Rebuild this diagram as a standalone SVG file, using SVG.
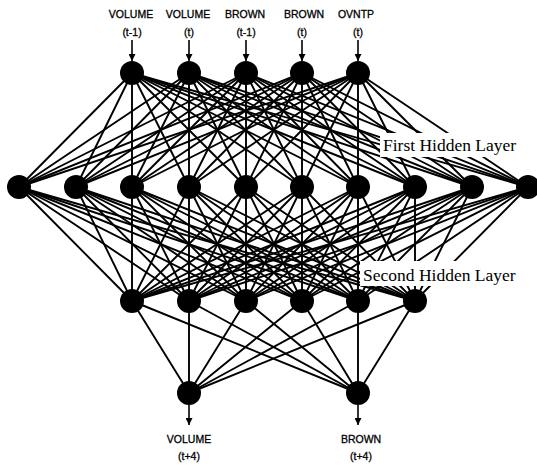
<svg xmlns="http://www.w3.org/2000/svg" width="537" height="468" viewBox="0 0 537 468">
  <style>
    .c { stroke: #000; stroke-width: 1.9; fill: none; stroke-linecap: round; }
    .a { stroke: #000; stroke-width: 1.6; fill: none; }
    .n { fill: #000; }
    .io { font-family: "Liberation Sans", Arial, sans-serif; font-size: 10.5px; fill: #000; stroke: #000; stroke-width: 0.3; text-anchor: middle; }
    .lay { font-family: "Liberation Serif", "Times New Roman", serif; font-size: 17.5px; fill: #000; }
    .mask { fill: #fff; }
  </style>
  <defs>
    <marker id="head" viewBox="0 0 10 10" refX="10" refY="5" markerWidth="10" markerHeight="7" markerUnits="userSpaceOnUse" orient="auto">
      <path d="M0,0 L10,5 L0,10 z" fill="#000"/>
    </marker>
  </defs>

  <rect width="537" height="468" fill="#fff"/>

  <!-- weighted connections between layers -->
  <g id="connectors">
    <!-- input layer to first hidden layer -->
    <g id="w-in-h1">
      <line class="c" x1="132" y1="73" x2="19" y2="187"/><line class="c" x1="132" y1="73" x2="76" y2="187"/><line class="c" x1="132" y1="73" x2="132" y2="187"/><line class="c" x1="132" y1="73" x2="189" y2="187"/><line class="c" x1="132" y1="73" x2="246" y2="187"/><line class="c" x1="132" y1="73" x2="302" y2="187"/><line class="c" x1="132" y1="73" x2="358" y2="187"/><line class="c" x1="132" y1="73" x2="415" y2="187"/><line class="c" x1="132" y1="73" x2="472" y2="187"/><line class="c" x1="132" y1="73" x2="528" y2="187"/>
      <line class="c" x1="189" y1="73" x2="19" y2="187"/><line class="c" x1="189" y1="73" x2="76" y2="187"/><line class="c" x1="189" y1="73" x2="132" y2="187"/><line class="c" x1="189" y1="73" x2="189" y2="187"/><line class="c" x1="189" y1="73" x2="246" y2="187"/><line class="c" x1="189" y1="73" x2="302" y2="187"/><line class="c" x1="189" y1="73" x2="358" y2="187"/><line class="c" x1="189" y1="73" x2="415" y2="187"/><line class="c" x1="189" y1="73" x2="472" y2="187"/><line class="c" x1="189" y1="73" x2="528" y2="187"/>
      <line class="c" x1="246" y1="73" x2="19" y2="187"/><line class="c" x1="246" y1="73" x2="76" y2="187"/><line class="c" x1="246" y1="73" x2="132" y2="187"/><line class="c" x1="246" y1="73" x2="189" y2="187"/><line class="c" x1="246" y1="73" x2="246" y2="187"/><line class="c" x1="246" y1="73" x2="302" y2="187"/><line class="c" x1="246" y1="73" x2="358" y2="187"/><line class="c" x1="246" y1="73" x2="415" y2="187"/><line class="c" x1="246" y1="73" x2="472" y2="187"/><line class="c" x1="246" y1="73" x2="528" y2="187"/>
      <line class="c" x1="302" y1="73" x2="19" y2="187"/><line class="c" x1="302" y1="73" x2="76" y2="187"/><line class="c" x1="302" y1="73" x2="132" y2="187"/><line class="c" x1="302" y1="73" x2="189" y2="187"/><line class="c" x1="302" y1="73" x2="246" y2="187"/><line class="c" x1="302" y1="73" x2="302" y2="187"/><line class="c" x1="302" y1="73" x2="358" y2="187"/><line class="c" x1="302" y1="73" x2="415" y2="187"/><line class="c" x1="302" y1="73" x2="472" y2="187"/><line class="c" x1="302" y1="73" x2="528" y2="187"/>
      <line class="c" x1="358" y1="73" x2="19" y2="187"/><line class="c" x1="358" y1="73" x2="76" y2="187"/><line class="c" x1="358" y1="73" x2="132" y2="187"/><line class="c" x1="358" y1="73" x2="189" y2="187"/><line class="c" x1="358" y1="73" x2="246" y2="187"/><line class="c" x1="358" y1="73" x2="302" y2="187"/><line class="c" x1="358" y1="73" x2="358" y2="187"/><line class="c" x1="358" y1="73" x2="415" y2="187"/><line class="c" x1="358" y1="73" x2="472" y2="187"/><line class="c" x1="358" y1="73" x2="528" y2="187"/>
    </g>
    <!-- first hidden layer to second hidden layer -->
    <g id="w-h1-h2">
      <line class="c" x1="19" y1="187" x2="132" y2="301"/><line class="c" x1="19" y1="187" x2="189" y2="301"/><line class="c" x1="19" y1="187" x2="246" y2="301"/><line class="c" x1="19" y1="187" x2="302" y2="301"/><line class="c" x1="19" y1="187" x2="358" y2="301"/><line class="c" x1="19" y1="187" x2="415" y2="301"/>
      <line class="c" x1="76" y1="187" x2="132" y2="301"/><line class="c" x1="76" y1="187" x2="189" y2="301"/><line class="c" x1="76" y1="187" x2="246" y2="301"/><line class="c" x1="76" y1="187" x2="302" y2="301"/><line class="c" x1="76" y1="187" x2="358" y2="301"/><line class="c" x1="76" y1="187" x2="415" y2="301"/>
      <line class="c" x1="132" y1="187" x2="132" y2="301"/><line class="c" x1="132" y1="187" x2="189" y2="301"/><line class="c" x1="132" y1="187" x2="246" y2="301"/><line class="c" x1="132" y1="187" x2="302" y2="301"/><line class="c" x1="132" y1="187" x2="358" y2="301"/><line class="c" x1="132" y1="187" x2="415" y2="301"/>
      <line class="c" x1="189" y1="187" x2="132" y2="301"/><line class="c" x1="189" y1="187" x2="189" y2="301"/><line class="c" x1="189" y1="187" x2="246" y2="301"/><line class="c" x1="189" y1="187" x2="302" y2="301"/><line class="c" x1="189" y1="187" x2="358" y2="301"/><line class="c" x1="189" y1="187" x2="415" y2="301"/>
      <line class="c" x1="246" y1="187" x2="132" y2="301"/><line class="c" x1="246" y1="187" x2="189" y2="301"/><line class="c" x1="246" y1="187" x2="246" y2="301"/><line class="c" x1="246" y1="187" x2="302" y2="301"/><line class="c" x1="246" y1="187" x2="358" y2="301"/><line class="c" x1="246" y1="187" x2="415" y2="301"/>
      <line class="c" x1="302" y1="187" x2="132" y2="301"/><line class="c" x1="302" y1="187" x2="189" y2="301"/><line class="c" x1="302" y1="187" x2="246" y2="301"/><line class="c" x1="302" y1="187" x2="302" y2="301"/><line class="c" x1="302" y1="187" x2="358" y2="301"/><line class="c" x1="302" y1="187" x2="415" y2="301"/>
      <line class="c" x1="358" y1="187" x2="132" y2="301"/><line class="c" x1="358" y1="187" x2="189" y2="301"/><line class="c" x1="358" y1="187" x2="246" y2="301"/><line class="c" x1="358" y1="187" x2="302" y2="301"/><line class="c" x1="358" y1="187" x2="358" y2="301"/><line class="c" x1="358" y1="187" x2="415" y2="301"/>
      <line class="c" x1="415" y1="187" x2="132" y2="301"/><line class="c" x1="415" y1="187" x2="189" y2="301"/><line class="c" x1="415" y1="187" x2="246" y2="301"/><line class="c" x1="415" y1="187" x2="302" y2="301"/><line class="c" x1="415" y1="187" x2="358" y2="301"/><line class="c" x1="415" y1="187" x2="415" y2="301"/>
      <line class="c" x1="472" y1="187" x2="132" y2="301"/><line class="c" x1="472" y1="187" x2="189" y2="301"/><line class="c" x1="472" y1="187" x2="246" y2="301"/><line class="c" x1="472" y1="187" x2="302" y2="301"/><line class="c" x1="472" y1="187" x2="358" y2="301"/><line class="c" x1="472" y1="187" x2="415" y2="301"/>
      <line class="c" x1="528" y1="187" x2="132" y2="301"/><line class="c" x1="528" y1="187" x2="189" y2="301"/><line class="c" x1="528" y1="187" x2="246" y2="301"/><line class="c" x1="528" y1="187" x2="302" y2="301"/><line class="c" x1="528" y1="187" x2="358" y2="301"/><line class="c" x1="528" y1="187" x2="415" y2="301"/>
    </g>
    <!-- second hidden layer to outputs -->
    <g id="w-h2-out">
      <line class="c" x1="132" y1="301" x2="189" y2="393"/><line class="c" x1="132" y1="301" x2="358" y2="393"/>
      <line class="c" x1="189" y1="301" x2="189" y2="393"/><line class="c" x1="189" y1="301" x2="358" y2="393"/>
      <line class="c" x1="246" y1="301" x2="189" y2="393"/><line class="c" x1="246" y1="301" x2="358" y2="393"/>
      <line class="c" x1="302" y1="301" x2="189" y2="393"/><line class="c" x1="302" y1="301" x2="358" y2="393"/>
      <line class="c" x1="358" y1="301" x2="189" y2="393"/><line class="c" x1="358" y1="301" x2="358" y2="393"/>
      <line class="c" x1="415" y1="301" x2="189" y2="393"/><line class="c" x1="415" y1="301" x2="358" y2="393"/>
    </g>
    <!-- input and output arrows -->
    <g id="arrows">
      <line class="a" x1="132" y1="40" x2="132" y2="61" marker-end="url(#head)"/>
      <line class="a" x1="189" y1="40" x2="189" y2="61" marker-end="url(#head)"/>
      <line class="a" x1="246" y1="40" x2="246" y2="61" marker-end="url(#head)"/>
      <line class="a" x1="302" y1="40" x2="302" y2="61" marker-end="url(#head)"/>
      <line class="a" x1="358" y1="40" x2="358" y2="61" marker-end="url(#head)"/>
      <line class="a" x1="189" y1="405" x2="189" y2="425" marker-end="url(#head)"/>
      <line class="a" x1="358" y1="405" x2="358" y2="425" marker-end="url(#head)"/>
    </g>
  </g>

  <!-- layer captions on white backing -->
  <g id="label-hidden1">
    <rect class="mask" x="380" y="133" width="142" height="24"/>
    <text class="lay" x="383" y="151">First Hidden Layer</text>
  </g>
  <g id="label-hidden2">
    <rect class="mask" x="360" y="261" width="162" height="25"/>
    <text class="lay" x="363" y="281">Second Hidden Layer</text>
  </g>

  <!-- input layer -->
  <g id="in-volume-t1"><text class="io" x="131" y="18">VOLUME</text><text class="io" x="132" y="36">(t-1)</text><circle class="n" cx="132" cy="73" r="12"/></g>
  <g id="in-volume-t"><text class="io" x="188" y="18">VOLUME</text><text class="io" x="189" y="36">(t)</text><circle class="n" cx="189" cy="73" r="12"/></g>
  <g id="in-brown-t1"><text class="io" x="245" y="18">BROWN</text><text class="io" x="246" y="36">(t-1)</text><circle class="n" cx="246" cy="73" r="12"/></g>
  <g id="in-brown-t"><text class="io" x="304" y="18">BROWN</text><text class="io" x="302" y="36">(t)</text><circle class="n" cx="302" cy="73" r="12"/></g>
  <g id="in-ovntp-t"><text class="io" x="356" y="18">OVNTP</text><text class="io" x="358" y="36">(t)</text><circle class="n" cx="358" cy="73" r="12"/></g>

  <!-- first hidden layer -->
  <g id="h1-1"><circle class="n" cx="19" cy="187" r="12"/></g>
  <g id="h1-2"><circle class="n" cx="76" cy="187" r="12"/></g>
  <g id="h1-3"><circle class="n" cx="132" cy="187" r="12"/></g>
  <g id="h1-4"><circle class="n" cx="189" cy="187" r="12"/></g>
  <g id="h1-5"><circle class="n" cx="246" cy="187" r="12"/></g>
  <g id="h1-6"><circle class="n" cx="302" cy="187" r="12"/></g>
  <g id="h1-7"><circle class="n" cx="358" cy="187" r="12"/></g>
  <g id="h1-8"><circle class="n" cx="415" cy="187" r="12"/></g>
  <g id="h1-9"><circle class="n" cx="472" cy="187" r="12"/></g>
  <g id="h1-10"><circle class="n" cx="528" cy="187" r="12"/></g>

  <!-- second hidden layer -->
  <g id="h2-1"><circle class="n" cx="132" cy="301" r="12"/></g>
  <g id="h2-2"><circle class="n" cx="189" cy="301" r="12"/></g>
  <g id="h2-3"><circle class="n" cx="246" cy="301" r="12"/></g>
  <g id="h2-4"><circle class="n" cx="302" cy="301" r="12"/></g>
  <g id="h2-5"><circle class="n" cx="358" cy="301" r="12"/></g>
  <g id="h2-6"><circle class="n" cx="415" cy="301" r="12"/></g>

  <!-- output layer -->
  <g id="out-volume"><circle class="n" cx="189" cy="393" r="12"/><text class="io" x="189" y="443">VOLUME</text><text class="io" x="189" y="460">(t+4)</text></g>
  <g id="out-brown"><circle class="n" cx="358" cy="393" r="12"/><text class="io" x="361" y="443">BROWN</text><text class="io" x="361" y="460">(t+4)</text></g>
</svg>
